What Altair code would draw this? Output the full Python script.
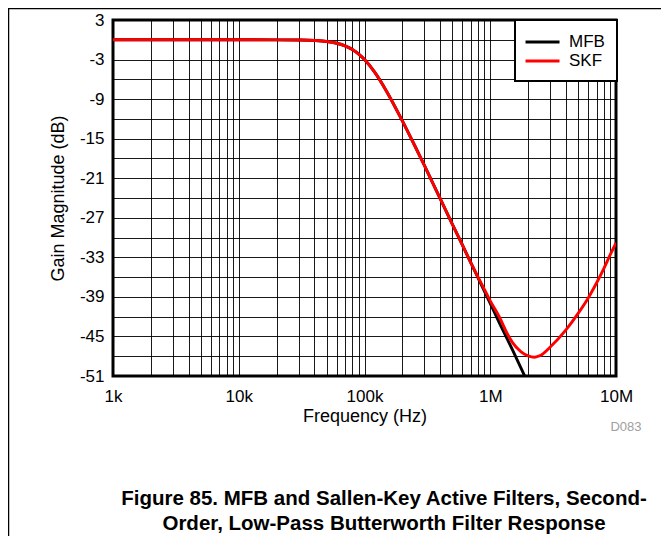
import altair as alt
import pandas as pd

# ---- data ----
freq_mfb = [1e3, 1e4, 2e4, 3e4, 4e4, 5e4, 6e4, 7e4, 8e4, 9e4, 1e5, 1.2e5, 1.5e5,
            2e5, 2.5e5, 3e5, 4e5, 5e5, 6e5, 7e5, 8e5, 1e6, 1.2e6, 1.5e6, 1.9e6]
gain_mfb = [0.0, 0.0, -0.01, -0.04, -0.11, -0.26, -0.53, -0.93, -1.49, -2.19, -3.01, -4.88, -7.83,
            -12.3, -16.0, -19.1, -24.1, -28.0, -31.1, -33.8, -36.1, -40.0, -43.2, -47.0, -51.2]

freq_skf = [1e3, 1e4, 2e4, 3e4, 4e4, 5e4, 6e4, 7e4, 8e4, 9e4, 1e5, 1.2e5, 1.5e5,
            2e5, 2.5e5, 3e5, 4e5, 5e5, 6e5, 7e5, 8e5, 9e5, 1e6, 1.2e6, 1.35e6, 1.5e6,
            1.75e6, 2e6, 2.25e6, 2.5e6, 3e6, 4e6, 5e6, 6e6, 7e6, 8e6, 9e6, 1e7]
gain_skf = [0.0, 0.0, -0.01, -0.04, -0.11, -0.26, -0.53, -0.93, -1.49, -2.19, -3.01, -4.88, -7.83,
            -12.3, -16.0, -19.1, -24.1, -28.0, -31.1, -33.8, -36.0, -37.9, -39.6, -42.3, -44.4, -45.9,
            -47.3, -47.95, -48.15, -47.9, -46.6, -44.0, -41.5, -39.2, -36.9, -34.7, -32.6, -30.8]

series_names = ["MFB", "SKF"]
series_colors = ["#000000", "#ff0000"]

x_tick_values = [1e3, 1e4, 1e5, 1e6, 1e7]
x_tick_labels = ["1k", "10k", "100k", "1M", "10M"]
x_grid_values = [m * d for d in [1e3, 1e4, 1e5, 1e6] for m in range(1, 10)] + [1e7]
y_grid_values = list(range(-51, 4, 3))

caption_lines = ["Figure 85. MFB and Sallen-Key Active Filters, Second-",
                 "Order, Low-Pass Butterworth Filter Response"]
code_label = "D083"

FONT = "Liberation Sans, Arial, sans-serif"

df = pd.concat([
    pd.DataFrame({"freq": freq_mfb, "gain": gain_mfb, "series": "MFB"}),
    pd.DataFrame({"freq": freq_skf, "gain": gain_skf, "series": "SKF"}),
])

x_expr = ""
for v, lab in zip(x_tick_values, x_tick_labels):
    x_expr += f"datum.value == {v} ? '{lab}' : "
x_expr += "''"
y_expr = "abs(datum.value % 6) == 3 ? '' + datum.value : ''"

lines = alt.Chart(df).mark_line(strokeWidth=2.9, clip=True, interpolate="monotone").encode(
    x=alt.X("freq:Q",
            scale=alt.Scale(type="log", domain=[1e3, 1e7], nice=False),
            axis=alt.Axis(values=x_grid_values, labelExpr=x_expr, title="Frequency (Hz)",
                          labelOverlap=False, labelFlush=False, labelPadding=12, titlePadding=3)),
    y=alt.Y("gain:Q",
            scale=alt.Scale(domain=[-51, 3], nice=False, zero=False),
            axis=alt.Axis(values=y_grid_values, labelExpr=y_expr, title="Gain Magnitude (dB)",
                          labelOverlap=False, labelFlush=False, labelPadding=9, titlePadding=12)),
    color=alt.Color("series:N",
                    scale=alt.Scale(domain=series_names, range=series_colors),
                    legend=alt.Legend(title=None, orient="none", legendX=402, legendY=0,
                                      symbolType="M-1.35,0H2.65", symbolSize=289, symbolStrokeWidth=2.9,
                                      labelFontSize=17, labelFont=FONT, labelColor="black",
                                      labelOffset=22, padding=12, rowPadding=1,
                                      strokeColor="black", fillColor="white")),
)

one = pd.DataFrame({"a": [0]})
frame_top = alt.Chart(one).mark_rule(color="black", strokeWidth=1.5).encode(
    x=alt.value(-105), x2=alt.value(560), y=alt.value(-11.5))
frame_left = alt.Chart(one).mark_rule(color="black", strokeWidth=1.5).encode(
    x=alt.value(-104.5), y=alt.value(-12), y2=alt.value(540))

cap1 = alt.Chart(one).mark_text(font=FONT, fontSize=20.5, fontWeight="bold", color="black",
                                align="center", baseline="alphabetic").encode(
    x=alt.value(271), y=alt.value(485), text=alt.value(caption_lines[0]))
cap2 = alt.Chart(one).mark_text(font=FONT, fontSize=20.5, fontWeight="bold", color="black",
                                align="center", baseline="alphabetic").encode(
    x=alt.value(271), y=alt.value(510), text=alt.value(caption_lines[1]))
code = alt.Chart(one).mark_text(font=FONT, fontSize=13, color="#a0a0a0",
                                align="center", baseline="middle").encode(
    x=alt.value(513), y=alt.value(407), text=alt.value(code_label))

chart = alt.layer(lines, frame_top, frame_left, cap1, cap2, code).properties(
    width=503, height=356,
    padding={"left": 105, "top": 12, "right": 45, "bottom": 160},
    autosize=alt.AutoSizeParams(type="none"),
).configure_view(
    stroke="black", strokeWidth=3
).configure_axis(
    grid=True, gridColor="black", gridWidth=1, gridOpacity=0.9,
    ticks=False, domain=False,
    labelFont=FONT, labelFontSize=17, labelColor="black",
    titleFont=FONT, titleFontSize=18, titleFontWeight="normal", titleColor="black",
).configure_legend(
    strokeWidth=2
)

chart.save("out.html", embed_options={"renderer": "svg", "actions": False})
